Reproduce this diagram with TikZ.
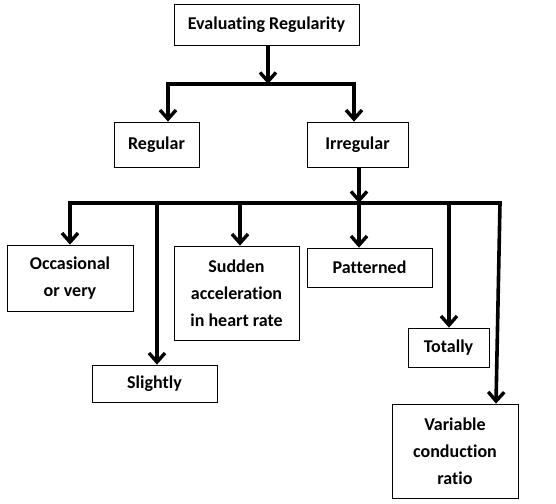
\documentclass[tikz,border=0pt]{standalone}
\usepackage{fontspec}
\setmainfont{Carlito}[Ligatures={NoCommon}]
\usetikzlibrary{arrows.meta}
\tikzset{box/.style={draw,line width=0.8pt,align=center,inner sep=0pt,font=\bfseries\fontsize{18}{27}\selectfont}}
\tikzset{bus/.style={line width=3.6pt,line cap=rect}}
\tikzset{branch/.style={line width=3.6pt,-{Straight Barb[length=9pt,width=16pt,line width=3.4pt]}}}

\begin{document}
\begin{tikzpicture}[x=1pt,y=-1pt]
\useasboundingbox (0,0) rectangle (556,503);

\node[box,minimum width=185pt,minimum height=41pt] (eval) at (266.5,24.5) {Evaluating Regularity};
\node[box,minimum width=85pt,minimum height=45pt] (regular) at (156.5,144.5) {Regular};
\node[box,minimum width=101pt,minimum height=45pt] (irregular) at (357.5,144.5) {Irregular};

\node[box,minimum width=126pt,minimum height=66pt] (occasional) at (70,278) {Occasional\\or very};
\node[box,minimum width=125pt,minimum height=37pt] (slightly) at (154.5,383.5) {Slightly};
\node[box,minimum width=125pt,minimum height=94pt] (sudden) at (236.5,293) {Sudden\\acceleration\\in heart rate};
\node[box,minimum width=125pt,minimum height=39pt] (patterned) at (369.5,267.5) {Patterned};
\node[box,minimum width=81pt,minimum height=39pt] (totally) at (448.5,347.5) {Totally};
\node[box,minimum width=126pt,minimum height=94pt] (variable) at (455,451) {Variable\\conduction\\ratio};

% first split
\coordinate (split) at (268,84);
\coordinate (splitL) at (168,84);
\coordinate (splitR) at (354,84);
\draw[branch] (eval.south -| split) -- (split);
\draw[bus] (splitL) -- (splitR);
\draw[branch] (splitL) -- (splitL |- regular.north);
\draw[branch] (splitR) -- (splitR |- irregular.north);

% second split
\coordinate (fork) at (359,203);
\coordinate (forkL) at (70,203);
\coordinate (forkR) at (500,203);
\draw[branch] (irregular.south -| fork) -- (fork);
\draw[bus] (forkL) -- (forkR);
\draw[branch] (forkL) -- (forkL |- occasional.north);
\draw[branch] (157,203) -- (slightly.north -| 157,0);
\draw[branch] (240,203) -- (sudden.north -| 240,0);
\draw[branch] (fork) -- (fork |- patterned.north);
\draw[branch] (449,203) -- (totally.north -| 449,0);
\draw[branch] (forkR) -- ([xshift=41pt]variable.north);

\end{tikzpicture}
\end{document}
